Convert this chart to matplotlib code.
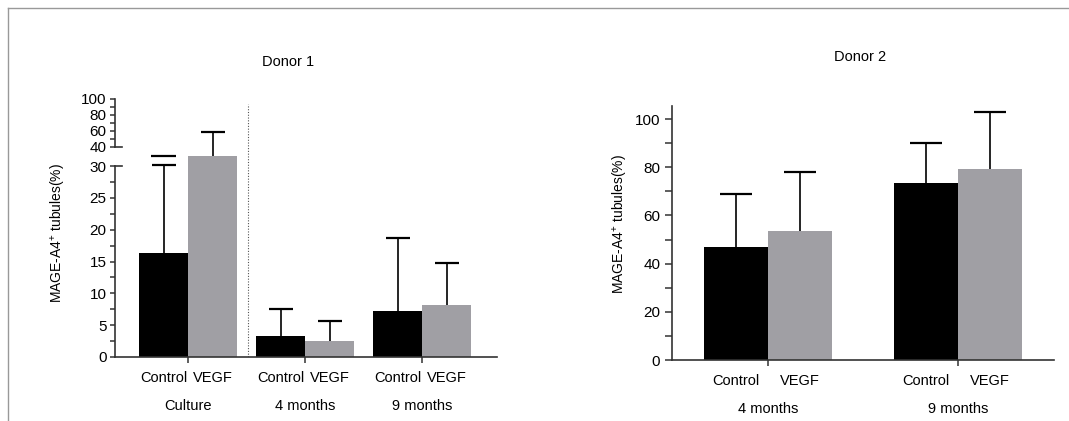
import numpy as np
import matplotlib.pyplot as plt
from matplotlib.lines import Line2D

plt.rcParams['font.family'] = ['Liberation Sans', 'DejaVu Sans']
plt.rcParams['mathtext.default'] = 'regular'

# Donor 1
groups1 = ['Culture', '4 months', '9 months']
ctrl1 = [16.3, 3.3, 7.2]
ctrl1_sd = [13.9, 4.2, 11.5]
vegf1 = [31.6, 2.5, 8.2]
vegf1_sd = [27.15, 3.15, 6.6]

# Donor 2
groups2 = ['4 months', '9 months']
ctrl2 = [46.9, 73.4]
ctrl2_sd = [22.0, 16.6]
vegf2 = [53.5, 79.3]
vegf2_sd = [24.5, 23.6]

sub_labels = ['Control', 'VEGF']
ylabel = 'MAGE-A4$^{+}$ tubules(%)'

BLACK = '#000000'
GREY = '#a09fa4'
AXC = '#333333'

# broken axis of donor 1: lower part 0..31.6, gap, upper part 40..100
brk_y = [0, 31.6, 40, 100]
brk_px = [0, 201, 210, 258]


def fwd(y):
    return np.interp(y, brk_y, brk_px)


def inv(p):
    return np.interp(p, brk_px, brk_y)


def style_axes(ax, tick_len, pad):
    for s in ['top', 'right']:
        ax.spines[s].set_visible(False)
    for s in ['left', 'bottom']:
        ax.spines[s].set_color(AXC)
        ax.spines[s].set_linewidth(1.2)
    ax.tick_params(axis='y', which='major', direction='out', length=tick_len, width=1.1,
                   color=AXC, labelsize=11, pad=pad)
    ax.tick_params(axis='y', which='minor', direction='out', length=tick_len, width=1.1, color=AXC)
    ax.tick_params(axis='x', which='major', direction='out', length=4.5, width=1.1, color=AXC,
                   labelsize=10.5, pad=26)
    ax.tick_params(axis='x', which='minor', length=0, labelsize=10.5, pad=10)


def draw_errors(ax, x, vals, sd, cap):
    _, caps, _ = ax.errorbar(x, vals, yerr=[np.zeros(len(vals)), sd], fmt='none',
                             ecolor='black', elinewidth=1.2, capsize=cap, capthick=1.6, zorder=3)
    caps[0].set_visible(False)


def draw_bars(ax, ctrl, csd, vegf, vsd, width, cap, groups):
    x = np.arange(len(ctrl))
    ax.bar(x - width / 2, ctrl, width, color=BLACK, zorder=2)
    ax.bar(x + width / 2, vegf, width, color=GREY, zorder=2)
    draw_errors(ax, x - width / 2, ctrl, csd, cap)
    draw_errors(ax, x + width / 2, vegf, vsd, cap)
    ax.set_xticks(x, groups)
    pos = np.concatenate([x - width / 2, x + width / 2])
    labs = [sub_labels[0]] * len(x) + [sub_labels[1]] * len(x)
    ax.set_xticks(pos, labs, minor=True)
    return x


fig = plt.figure(figsize=(10.69, 4.21), dpi=100)

# ---- Donor 1 ----
ax1 = fig.add_axes([115 / 1069, 64 / 421, 382 / 1069, 258 / 421])
ax1.set_yscale('function', functions=(fwd, inv))
style_axes(ax1, 3.6, 2.6)
w1 = 0.419
x1 = draw_bars(ax1, ctrl1, ctrl1_sd, vegf1, vegf1_sd, w1, 8.6, groups1)
# clipped cap of the culture control bar at the top of the lower segment
ax1.hlines(brk_y[1], x1[0] - w1 / 2 - 0.103, x1[0] - w1 / 2 + 0.103, color='black', lw=1.6, zorder=3)
ax1.set_xlim(-0.624, 2.64)
ax1.set_ylim(0, 100)
ax1.set_yticks([0, 5, 10, 15, 20, 25, 30, 40, 60, 80, 100])
ax1.set_yticks(list(np.arange(2.5, 30, 5)) + [50, 70, 90], minor=True)
ax1.spines['left'].set_bounds(0, 30)
yt = ax1.get_yaxis_transform()
ax1.plot([0, 0], [40, 100], color=AXC, lw=1.2, transform=yt, clip_on=False)
ax1.plot([0, 0.018], [30, 30], color=AXC, lw=1.2, transform=yt, clip_on=False)
ax1.plot([0, 0.018], [40, 40], color=AXC, lw=1.2, transform=yt, clip_on=False)
ax1.vlines(0.513, 0, 93.75, colors='#555555', linestyles=(0, (1, 1.5)), lw=0.8)
fig.text(288 / 1069, 1 - 62 / 421, 'Donor 1', ha='center', va='center', fontsize=10.5)
fig.text(58 / 1069, 1 - 233 / 421, ylabel, rotation=90, ha='center', va='center', fontsize=10)

# ---- Donor 2 ----
ax2 = fig.add_axes([672 / 1069, 61 / 421, 382 / 1069, 254 / 421])
style_axes(ax2, 5, 3.5)
draw_bars(ax2, ctrl2, ctrl2_sd, vegf2, vegf2_sd, 0.337, 11.5, groups2)
ax2.set_xlim(-0.505, 1.505)
ax2.set_ylim(0, 105.4)
ax2.set_yticks(np.arange(0, 101, 20))
ax2.set_yticks(np.arange(10, 101, 20), minor=True)
fig.text(860 / 1069, 1 - 57 / 421, 'Donor 2', ha='center', va='center', fontsize=10.5)
fig.text(621 / 1069, 1 - 224 / 421, ylabel, rotation=90, ha='center', va='center', fontsize=10)

# frame lines at top and left
fig.add_artist(Line2D([8 / 1069, 1], [1 - 7.5 / 421, 1 - 7.5 / 421], color='#999999', lw=1.0))
fig.add_artist(Line2D([8 / 1069, 8 / 1069], [0, 1 - 7.5 / 421], color='#999999', lw=1.0))

fig.savefig('out.png', dpi=100)
